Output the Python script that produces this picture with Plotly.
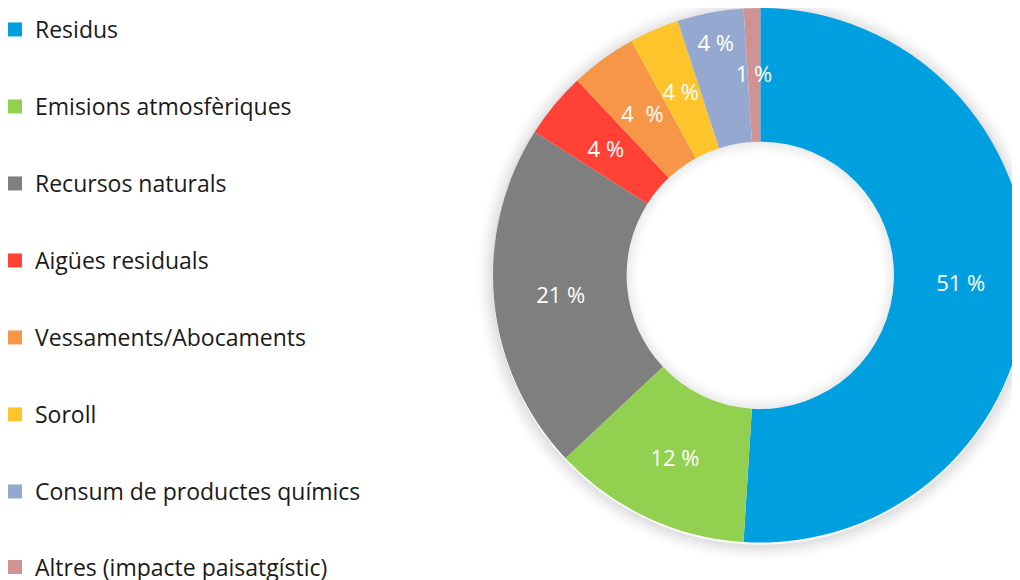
import plotly.graph_objects as go

categories = ["Residus", "Emisions atmosfèriques", "Recursos naturals", "Aigües residuals",
              "Vessaments/Abocaments", "Soroll", "Consum de productes químics",
              "Altres (impacte paisatgístic)"]
values = [51, 12, 21, 4, 4, 3, 4, 1]
pct_labels = ["51 %", "12 %", "21 %", "4 %", "4  %", "4 %", "4 %", "1 %"]
colors = ["#009FDF", "#92D050", "#7F7F7F", "#FF4136", "#F79646", "#FDC42B", "#95A9D0", "#D09394"]
# label placement: True = placed by the donut itself, False = on the mid-ring label ring
label_on_donut = [True, True, True, False, False, False, True, False]

FONT = "Open Sans"
W, H = 1040, 580          # page shows the figure offset by the body margin
CX, CY, R = 752.3, 267.3, 267.3   # donut centre / radius in figure pixels
HOLE = 0.5
LABEL_R = 0.78            # outer radius (fraction of R) of the invisible label ring
LABEL_HOLE = 0.72 / 0.78


def px_x(x):
    return x / W


def px_y(y):
    return (H - y) / H


def domain_for(radius):
    return dict(x=[px_x(CX - radius), px_x(CX + radius)],
                y=[px_y(CY + radius), px_y(CY - radius)])


donut_text = [t if f else "" for t, f in zip(pct_labels, label_on_donut)]
ring_text = ["" if f else t for t, f in zip(pct_labels, label_on_donut)]

fig = go.Figure()
# the donut itself
fig.add_trace(go.Pie(
    labels=categories,
    values=values,
    text=donut_text,
    textinfo="text",
    textposition="inside",
    insidetextorientation="horizontal",
    insidetextfont=dict(color="white", size=22, family=FONT),
    marker=dict(colors=colors, line=dict(width=0)),
    hole=HOLE,
    sort=False,
    direction="clockwise",
    rotation=0,
    showlegend=False,
    hovertext=pct_labels,
    hoverinfo="label+percent",
    domain=domain_for(R),
))
# transparent ring carrying the small-slice labels at mid-ring
fig.add_trace(go.Pie(
    labels=categories,
    values=values,
    text=ring_text,
    textinfo="text",
    textposition="inside",
    insidetextorientation="horizontal",
    insidetextfont=dict(color="white", size=22, family=FONT),
    marker=dict(colors=["rgba(0,0,0,0)"] * len(values), line=dict(width=0)),
    hole=LABEL_HOLE,
    sort=False,
    direction="clockwise",
    rotation=0,
    showlegend=False,
    hoverinfo="skip",
    domain=domain_for(R * LABEL_R),
))

# legend entries (one per category)
for i, (cat, col) in enumerate(zip(categories, colors)):
    fig.add_trace(go.Scatter(
        x=[None], y=[None], mode="markers", name=cat,
        marker=dict(symbol="square", size=14, color=col),
        legendgroup=cat, showlegend=True, hoverinfo="skip",
        legend="legend" if i < len(categories) - 1 else "legend2",
    ))

# soft shadow around the donut (decoration)
shapes = []
for k in range(1, 19):
    a = 0.12 * (1 - k / 19) ** 1.6
    r = R + k - 0.5
    shapes.append(dict(type="circle", xref="paper", yref="paper", layer="below",
                       x0=px_x(CX - r), x1=px_x(CX + r),
                       y0=px_y(CY + 2 + r), y1=px_y(CY + 2 - r),
                       line=dict(color=f"rgba(0,0,0,{a:.4f})", width=1.2)))
rin = R * HOLE
for k in range(1, 16):
    a = 0.075 * (1 - k / 16) ** 1.6
    r = rin - k + 0.5
    shapes.append(dict(type="circle", xref="paper", yref="paper", layer="below",
                       x0=px_x(CX - r), x1=px_x(CX + r),
                       y0=px_y(CY + r), y1=px_y(CY - r),
                       line=dict(color=f"rgba(0,0,0,{a:.4f})", width=1.2)))

legend_style = dict(
    xanchor="left", yanchor="top", traceorder="grouped",
    tracegroupgap=44.1, itemwidth=30,
    font=dict(size=23, family=FONT, color="#1a1a1a"),
    bgcolor="rgba(0,0,0,0)", borderwidth=0,
)

fig.update_layout(
    width=W, height=H,
    margin=dict(l=0, r=0, t=0, b=0, autoexpand=False),
    paper_bgcolor="white", plot_bgcolor="rgba(0,0,0,0)",
    font=dict(family=FONT, color="#1a1a1a"),
    uniformtext=dict(minsize=22, mode="show"),
    xaxis=dict(visible=False), yaxis=dict(visible=False),
    shapes=shapes,
    legend=dict(x=-13 / W, y=1, **legend_style),
    legend2=dict(x=-13 / W, y=(H - 537.5) / H, **legend_style),
)

fig.write_html("out.html")
